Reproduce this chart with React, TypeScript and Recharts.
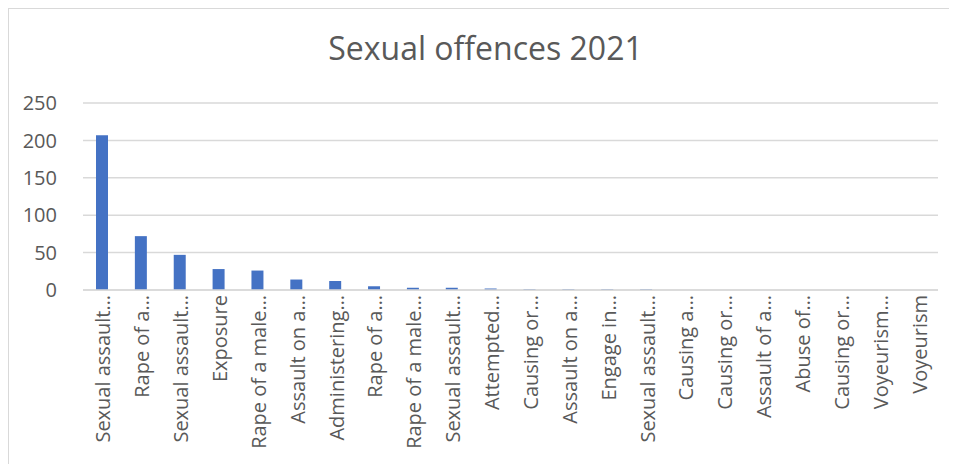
import { BarChart, Bar, XAxis, YAxis, CartesianGrid } from "recharts";

// category labels as Excel truncates them on the axis
const offences = [
  "Sexual assault…",
  "Rape of a…",
  "Sexual assault…",
  "Exposure",
  "Rape of a male…",
  "Assault on a…",
  "Administering…",
  "Rape of a…",
  "Rape of a male…",
  "Sexual assault…",
  "Attempted…",
  "Causing or…",
  "Assault on a…",
  "Engage in…",
  "Sexual assault…",
  "Causing a…",
  "Causing or…",
  "Assault of a…",
  "Abuse of…",
  "Causing or…",
  "Voyeurism…",
  "Voyeurism",
];

const counts = [207, 72, 47, 28, 26, 14, 12, 5, 3, 3, 2, 1, 1, 1, 1, 0, 0, 0, 0, 0, 0, 0];

const yTicks = [0, 50, 100, 150, 200, 250];

const data = offences.map((name, i) => ({ id: i, name, count: counts[i] }));

const FONT = "'Open Sans', 'Noto Sans', sans-serif";
const TEXT = "#595959";

const RotatedTick = (props: any) => {
  const { x, y, payload } = props;
  return (
    <text
      x={0}
      y={0}
      transform={`translate(${x + 8},${y - 3}) rotate(-90)`}
      textAnchor="end"
      fill={TEXT}
      fontSize={20}
      fontFamily={FONT}
    >
      {offences[payload.value]}
    </text>
  );
};

export default function App() {
  return (
    <div
      style={{
        position: "relative",
        width: 941,
        height: 455,
        border: "1px solid #d9d9d9",
        background: "#fff",
        fontFamily: FONT,
      }}
    >
      <div
        style={{
          position: "absolute",
          top: 17,
          left: 6,
          width: "100%",
          textAlign: "center",
          fontSize: 32,
          color: TEXT,
        }}
      >
        Sexual offences 2021
      </div>
      <BarChart
        width={941}
        height={455}
        data={data}
        margin={{ top: 94, right: 12, bottom: 4, left: 0 }}
      >
        <CartesianGrid vertical={false} stroke="#d9d9d9" strokeWidth={1.5} />
        <XAxis
          dataKey="id"
          interval={0}
          height={170}
          tickLine={false}
          axisLine={{ stroke: "#d9d9d9", strokeWidth: 1.5 }}
          tick={<RotatedTick />}
        />
        <YAxis
          width={74}
          domain={[0, 250]}
          ticks={yTicks}
          axisLine={false}
          tickLine={false}
          tick={{ fill: TEXT, fontSize: 20, fontFamily: FONT }}
          tickMargin={20}
        />
        <Bar dataKey="count" fill="#4472C4" barSize={12} isAnimationActive={false} />
      </BarChart>
    </div>
  );
}
